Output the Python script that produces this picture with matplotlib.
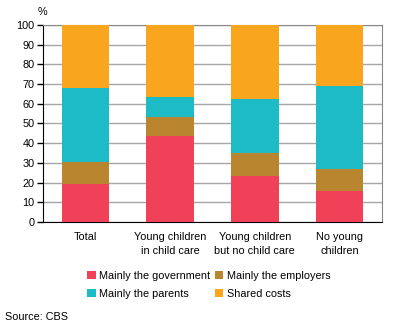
import matplotlib.pyplot as plt
import numpy as np
from matplotlib.patches import Patch

plt.rcParams['font.family'] = ['Liberation Sans', 'DejaVu Sans']

categories = ['Total', 'Young children\nin child care',
              'Young children\nbut no child care', 'No young\nchildren']
government = [19.5, 43.8, 23.5, 15.7]
employers = [11.1, 9.5, 11.5, 11.2]
parents = [37.6, 10.2, 27.4, 42.3]
shared = [31.8, 36.5, 37.6, 30.8]

series = [
    ('Mainly the government', government, '#f04158'),
    ('Mainly the employers', employers, '#b9862f'),
    ('Mainly the parents', parents, '#1dbbc6'),
    ('Shared costs', shared, '#f9a61e'),
]

fig = plt.figure(figsize=(3.96, 3.28), dpi=100)
ax = fig.add_axes([0.1086, 0.3232, 0.8560, 0.6006])

x = np.arange(len(categories))
bottom = np.zeros(len(categories))
for name, vals, col in series:
    ax.bar(x, vals, bottom=bottom, width=0.56, color=col, zorder=3)
    bottom += np.array(vals)

ax.set_xlim(-0.5, len(categories) - 0.5)
ax.set_ylim(0, 100)
ax.set_yticks(range(0, 101, 10))
ax.yaxis.grid(True, color='#a6a6a6', linewidth=1, zorder=0)
ax.set_xticks(x)
ax.set_xticklabels(categories, fontsize=7.8, linespacing=1.5)
ax.tick_params(axis='x', length=0, pad=7)
ax.tick_params(axis='y', labelsize=7.8, length=4, width=1, pad=2)

for side in ('top', 'right'):
    ax.spines[side].set_color('#888888')
for side in ('left', 'bottom'):
    ax.spines[side].set_color('black')

fig.text(0.108, 0.962, '%', fontsize=7.8, ha='center', va='center')

# legend fills column-wise, so order handles to read row by row
order = [0, 2, 1, 3]
handles = [Patch(facecolor=series[i][2], edgecolor='none') for i in order]
labels = [series[i][0] for i in order]
fig.legend(handles, labels, ncol=2, frameon=False, fontsize=7.8,
           loc='center', bbox_to_anchor=(0.527, 0.132),
           handlelength=0.8, handleheight=0.8, handletextpad=0.3,
           columnspacing=0.4, labelspacing=0.75)

fig.text(0.012, 0.034, 'Source: CBS', fontsize=7.8, ha='left', va='center')

fig.savefig('out.png', dpi=100)
